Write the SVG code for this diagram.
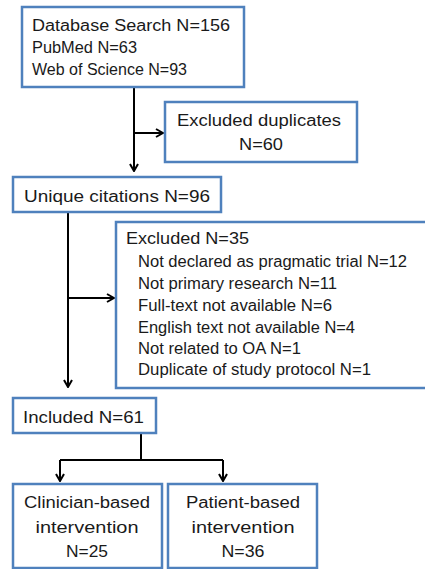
<svg xmlns="http://www.w3.org/2000/svg" width="425" height="569" viewBox="0 0 425 569">
<style>
.box{fill:#fff;stroke:#4F81BD;stroke-width:2.5}
.t{font-family:"Liberation Sans",Arial,sans-serif;font-size:16px;fill:#1a1a1a}
.c{text-anchor:middle}
.ln{fill:none;stroke:#000;stroke-width:2}
</style>
<defs>
<marker id="ah" viewBox="0 0 10 10" refX="9" refY="5" markerWidth="10" markerHeight="10" orient="auto" markerUnits="userSpaceOnUse">
<path d="M2,1 L9,5 L2,9" fill="none" stroke="#000" stroke-width="2"/>
</marker>
</defs>
<rect width="425" height="569" fill="#fff"/>
<g id="connectors">
<path class="ln" d="M134,87 V171" marker-end="url(#ah)"/>
<path class="ln" d="M134,133 H163" marker-end="url(#ah)"/>
<path class="ln" d="M68,212 V387" marker-end="url(#ah)"/>
<path class="ln" d="M68,298 H114" marker-end="url(#ah)"/>
<path class="ln" d="M141,433 V460 M60,460 H223"/>
<path class="ln" d="M60,460 V481" marker-end="url(#ah)"/>
<path class="ln" d="M223,460 V481" marker-end="url(#ah)"/>
</g>
<g id="database-search">
<rect class="box" x="22" y="7" width="222" height="80"/>
<text class="t" x="32" y="31" textLength="198" lengthAdjust="spacingAndGlyphs">Database Search N=156</text>
<text class="t" x="32" y="53" textLength="105" lengthAdjust="spacingAndGlyphs">PubMed N=63</text>
<text class="t" x="32" y="75" textLength="155" lengthAdjust="spacingAndGlyphs">Web of Science N=93</text>
</g>
<g id="excluded-duplicates">
<rect class="box" x="165" y="102" width="192" height="60"/>
<text class="t c" x="259" y="126" textLength="164" lengthAdjust="spacingAndGlyphs">Excluded duplicates</text>
<text class="t c" x="261" y="150" textLength="44" lengthAdjust="spacingAndGlyphs">N=60</text>
</g>
<g id="unique-citations">
<rect class="box" x="13" y="177" width="208" height="35"/>
<text class="t" x="24" y="202" textLength="186" lengthAdjust="spacingAndGlyphs">Unique citations N=96</text>
</g>
<g id="excluded">
<rect class="box" x="116" y="222" width="320" height="166"/>
<text class="t" x="126" y="244" textLength="123" lengthAdjust="spacingAndGlyphs">Excluded N=35</text>
<text class="t" x="138" y="267" textLength="269" lengthAdjust="spacingAndGlyphs">Not declared as pragmatic trial N=12</text>
<text class="t" x="138" y="289" textLength="199" lengthAdjust="spacingAndGlyphs">Not primary research N=11</text>
<text class="t" x="138" y="311" textLength="194" lengthAdjust="spacingAndGlyphs">Full-text not available N=6</text>
<text class="t" x="138" y="333" textLength="217" lengthAdjust="spacingAndGlyphs">English text not available N=4</text>
<text class="t" x="138" y="354" textLength="163" lengthAdjust="spacingAndGlyphs">Not related to OA N=1</text>
<text class="t" x="138" y="375" textLength="233" lengthAdjust="spacingAndGlyphs">Duplicate of study protocol N=1</text>
</g>
<g id="included">
<rect class="box" x="13" y="398" width="143" height="35"/>
<text class="t" x="23" y="423" textLength="121" lengthAdjust="spacingAndGlyphs">Included N=61</text>
</g>
<g id="clinician-based">
<rect class="box" x="13" y="484" width="149" height="84"/>
<text class="t c" x="87" y="508" textLength="126" lengthAdjust="spacingAndGlyphs">Clinician-based</text>
<text class="t c" x="87" y="533" textLength="103" lengthAdjust="spacingAndGlyphs">intervention</text>
<text class="t c" x="87" y="557" textLength="42" lengthAdjust="spacingAndGlyphs">N=25</text>
</g>
<g id="patient-based">
<rect class="box" x="168" y="484" width="149" height="84"/>
<text class="t c" x="243" y="508" textLength="114" lengthAdjust="spacingAndGlyphs">Patient-based</text>
<text class="t c" x="243" y="533" textLength="103" lengthAdjust="spacingAndGlyphs">intervention</text>
<text class="t c" x="243" y="557" textLength="43" lengthAdjust="spacingAndGlyphs">N=36</text>
</g>
</svg>
